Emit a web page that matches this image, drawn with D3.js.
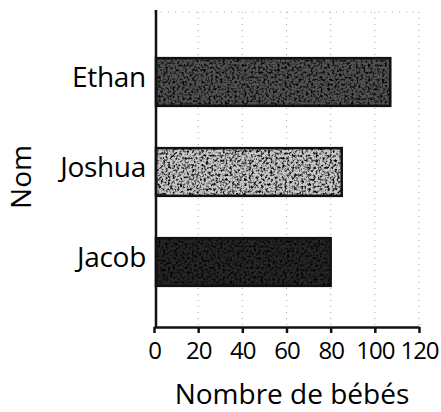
<!DOCTYPE html>
<html>
<head>
<meta charset="utf-8">
<script src="https://cdn.jsdelivr.net/npm/d3@7"></script>
<style>
  body { margin: 0; background: #fff; }
  svg text { font-family: "Open Sans", "Noto Sans", sans-serif; }
</style>
</head>
<body>
<div id="container"></div>
<script>
const names = ["Ethan", "Joshua", "Jacob"];
const babies = [107, 85, 80];
const xTicks = [0, 20, 40, 60, 80, 100, 120];
const barColors = ["#525252", "#c8c8c8", "#262626"];

const w = 441;
const h = 412;
const margin = { top: 10, right: 22, bottom: 85, left: 154 };
const width = w - margin.left - margin.right;
const height = h - margin.top - margin.bottom;

const svg = d3.select('#container')
  .append('svg')
  .attr('width', w)
  .attr('height', h);

// grain texture for the scanned look
const defs = svg.append('defs');
const f = defs.append('filter').attr('id', 'grain')
  .attr('x', 0).attr('y', 0).attr('width', 1).attr('height', 1);
f.append('feTurbulence')
  .attr('type', 'fractalNoise')
  .attr('baseFrequency', 0.42)
  .attr('numOctaves', 3)
  .attr('seed', 7)
  .attr('result', 'noise');
f.append('feColorMatrix')
  .attr('in', 'noise')
  .attr('type', 'matrix')
  .attr('values', '0 0 0 0 0  0 0 0 0 0  0 0 0 0 0  0 0 0 -3 1.7')
  .attr('result', 'spots');
f.append('feComposite')
  .attr('in', 'spots')
  .attr('in2', 'SourceGraphic')
  .attr('operator', 'in');

const g = svg.append('g')
  .attr('transform', `translate(${margin.left}, ${margin.top})`);

const xScale = d3.scaleLinear()
  .domain([0, 120])
  .range([0, width]);

const yScale = d3.scaleBand()
  .domain(names)
  .range([27, 297])
  .paddingInner(0.47)
  .paddingOuter(0.235);

// faint dotted gridlines
g.selectAll('.grid')
  .data(xTicks.slice(1))
  .enter().append('line')
  .attr('class', 'grid')
  .attr('x1', d => xScale(d))
  .attr('x2', d => xScale(d))
  .attr('y1', 2)
  .attr('y2', height)
  .attr('stroke', '#aaa')
  .attr('stroke-width', 1)
  .attr('stroke-dasharray', '1,5');

g.append('line')
  .attr('x1', 0).attr('x2', width)
  .attr('y1', 2).attr('y2', 2)
  .attr('stroke', '#aaa')
  .attr('stroke-dasharray', '1,6');

// bars
const bars = g.selectAll('.bar')
  .data(names)
  .enter().append('g')
  .attr('class', 'bar');

bars.append('rect')
  .attr('x', 2)
  .attr('y', d => yScale(d))
  .attr('width', (d, i) => xScale(babies[i]) - 2)
  .attr('height', yScale.bandwidth())
  .attr('fill', (d, i) => barColors[i]);

bars.append('rect')
  .attr('x', 2)
  .attr('y', d => yScale(d))
  .attr('width', (d, i) => xScale(babies[i]) - 2)
  .attr('height', yScale.bandwidth())
  .attr('fill', (d, i) => i === 1 ? '#8a8a8a' : '#0c0c0c')
  .attr('filter', 'url(#grain)');

bars.append('rect')
  .attr('x', 2)
  .attr('y', d => yScale(d))
  .attr('width', (d, i) => xScale(babies[i]) - 2)
  .attr('height', yScale.bandwidth())
  .attr('fill', 'none')
  .attr('stroke', '#111')
  .attr('stroke-width', 2.5);

// x axis
const xAxis = g.append('g')
  .attr('transform', `translate(0, ${height})`)
  .call(d3.axisBottom(xScale).tickValues(xTicks).tickSize(6).tickPadding(9).tickSizeOuter(0));
xAxis.attr('font-family', null);
xAxis.select('.domain').attr('stroke', '#111').attr('stroke-width', 2.5);
xAxis.selectAll('.tick line').attr('stroke', '#111').attr('stroke-width', 2.5);
xAxis.selectAll('.tick text')
  .attr('fill', '#000')
  .style('font-size', '24px')
  .style('letter-spacing', '-1px');

// y axis
const yAxis = g.append('g')
  .call(d3.axisLeft(yScale).tickSize(0).tickPadding(8));
yAxis.attr('font-family', null);
yAxis.select('.domain').remove();
yAxis.selectAll('.tick text')
  .attr('fill', '#000')
  .attr('dy', '0.18em')
  .style('font-size', '28px')
  .style('letter-spacing', '-0.3px');

g.append('line')
  .attr('x1', 2).attr('x2', 2)
  .attr('y1', 0).attr('y2', height + 1)
  .attr('stroke', '#111')
  .attr('stroke-width', 2.5);

// axis titles
svg.append('text')
  .attr('x', 292)
  .attr('y', 404)
  .attr('text-anchor', 'middle')
  .attr('fill', '#000')
  .style('font-size', '28px')
  .text('Nombre de bébés');

svg.append('text')
  .attr('transform', 'rotate(-90)')
  .attr('x', -177)
  .attr('y', 31)
  .attr('text-anchor', 'middle')
  .attr('fill', '#000')
  .style('font-size', '28px')
  .text('Nom');
</script>
</body>
</html>
